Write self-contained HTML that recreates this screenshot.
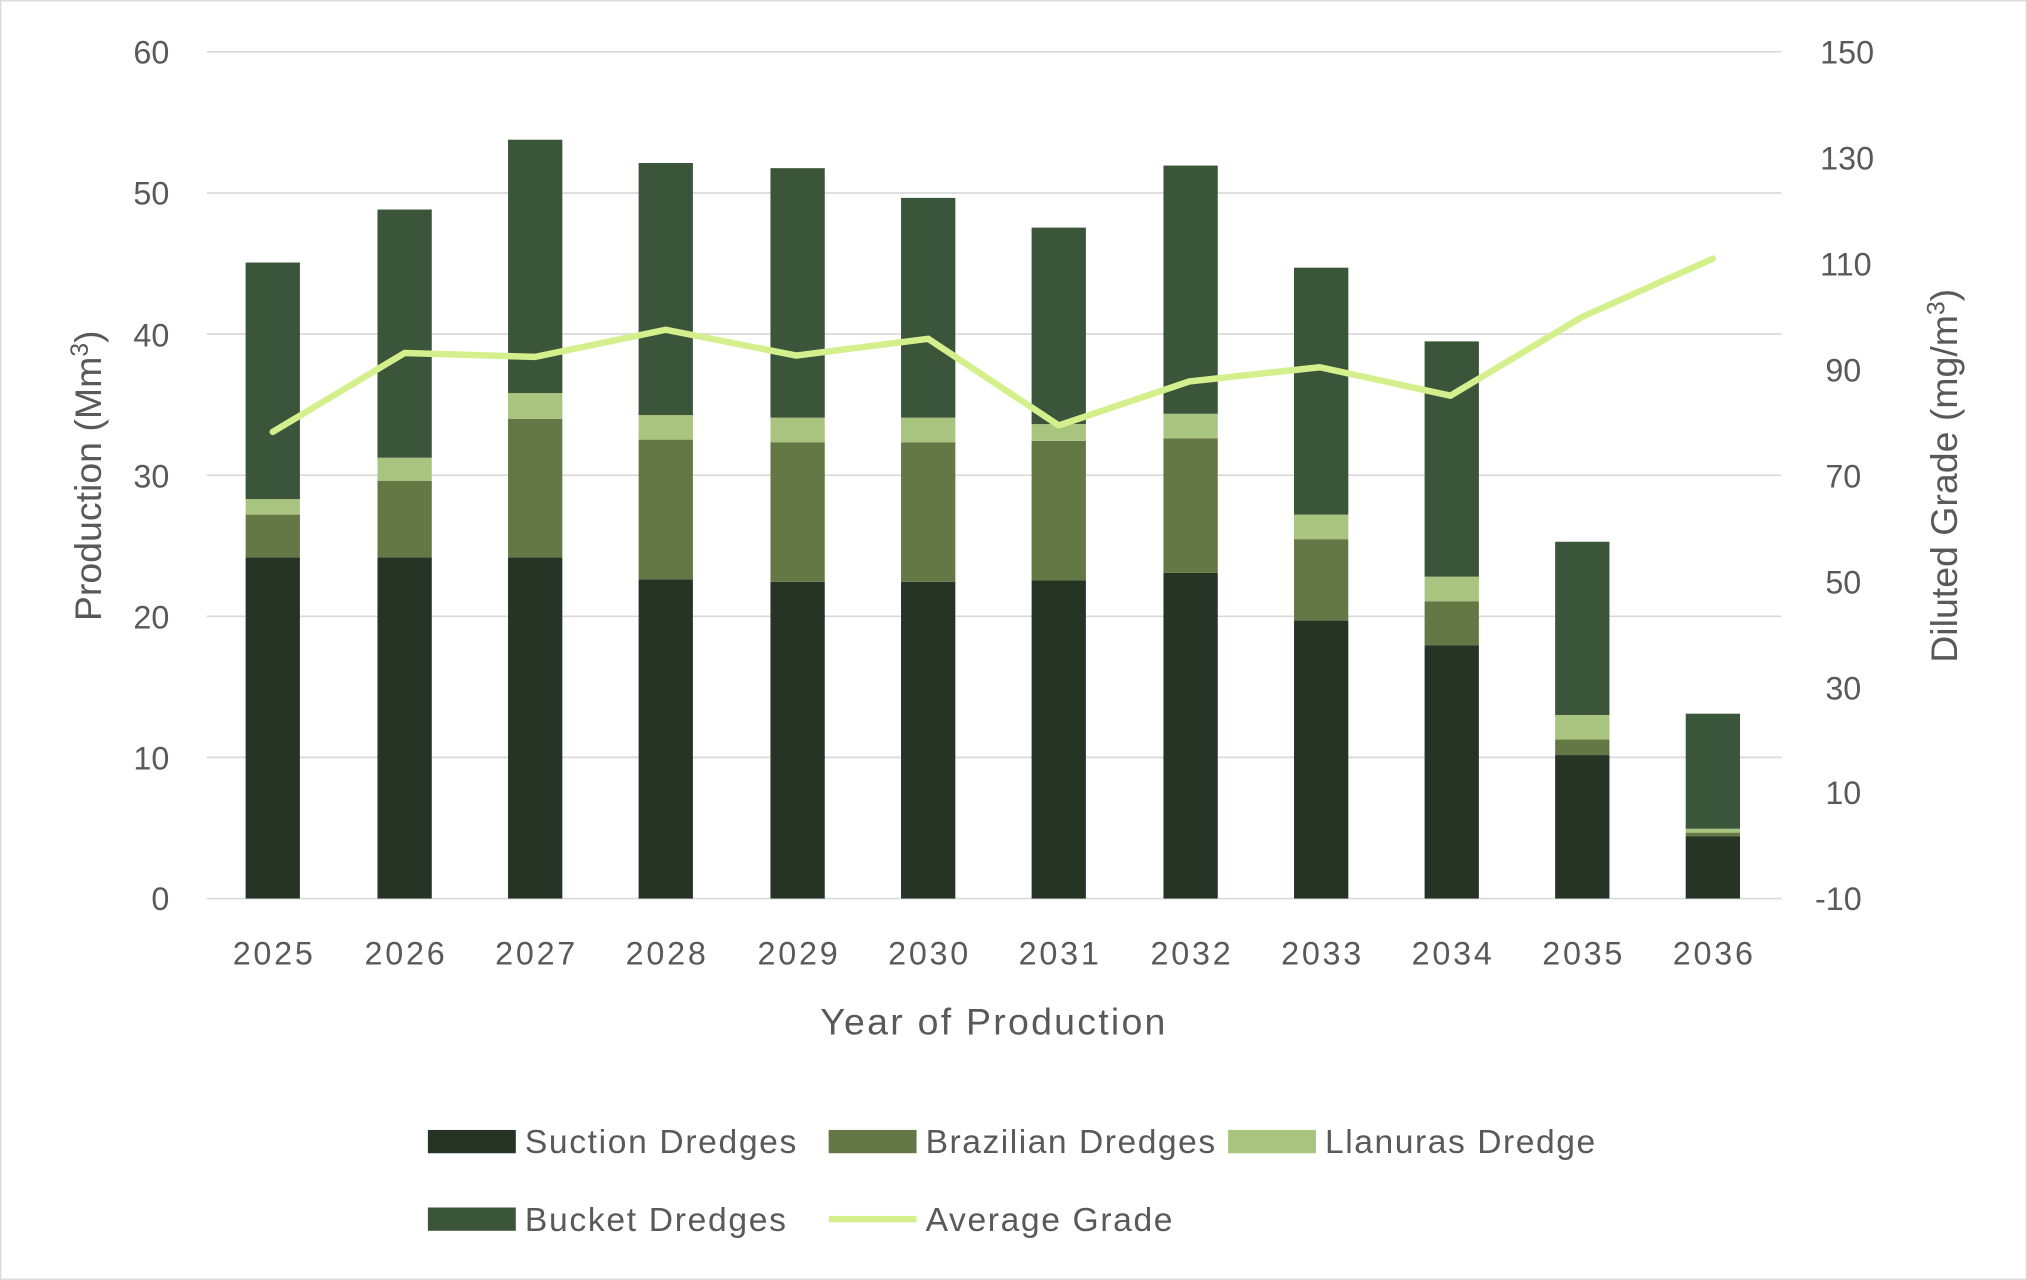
<!DOCTYPE html>
<html><head><meta charset="utf-8"><style>html,body{margin:0;padding:0;background:#fff}svg{display:block}</style></head>
<body>
<svg width="2027" height="1280" viewBox="0 0 1568 990" xmlns="http://www.w3.org/2000/svg" font-family="Liberation Sans, sans-serif">
<rect x="0.5" y="0.5" width="1567" height="989" fill="#fff" stroke="#d9d9d9"/>
<g stroke="#d9d9d9" stroke-width="1.3">
<line x1="160" x2="1378" y1="40" y2="40"/><line x1="160" x2="1378" y1="149.2" y2="149.2"/>
<line x1="160" x2="1378" y1="258.3" y2="258.3"/><line x1="160" x2="1378" y1="367.5" y2="367.5"/>
<line x1="160" x2="1378" y1="476.7" y2="476.7"/><line x1="160" x2="1378" y1="585.8" y2="585.8"/>
<line x1="160" x2="1378" y1="695" y2="695"/>
</g>
<g fill="#595959" font-size="25" text-anchor="end">
<text x="131" y="49">60</text><text x="131" y="158">50</text><text x="131" y="268">40</text>
<text x="131" y="377">30</text><text x="131" y="486">20</text><text x="131" y="595">10</text><text x="131" y="704">0</text>
</g>
<g fill="#595959" font-size="25" text-anchor="start">
<text x="1408" y="49">150</text><text x="1408" y="131">130</text><text x="1408" y="213">110</text>
<text x="1412" y="295">90</text><text x="1412" y="377">70</text><text x="1412" y="459">50</text>
<text x="1412" y="541">30</text><text x="1412" y="622">10</text><text x="1404" y="704">-10</text>
</g>
<g>
<rect x="190" y="431" width="42" height="264" fill="#263426"/><rect x="190" y="398" width="42" height="33" fill="#647845"/><rect x="190" y="386" width="42" height="12" fill="#a9c47f"/><rect x="190" y="203" width="42" height="183" fill="#3b553b"/>
<rect x="292" y="431" width="42" height="264" fill="#263426"/><rect x="292" y="372" width="42" height="59" fill="#647845"/><rect x="292" y="354" width="42" height="18" fill="#a9c47f"/><rect x="292" y="162" width="42" height="192" fill="#3b553b"/>
<rect x="393" y="431" width="42" height="264" fill="#263426"/><rect x="393" y="324" width="42" height="107" fill="#647845"/><rect x="393" y="304" width="42" height="20" fill="#a9c47f"/><rect x="393" y="108" width="42" height="196" fill="#3b553b"/>
<rect x="494" y="448" width="42" height="247" fill="#263426"/><rect x="494" y="340" width="42" height="108" fill="#647845"/><rect x="494" y="321" width="42" height="19" fill="#a9c47f"/><rect x="494" y="126" width="42" height="195" fill="#3b553b"/>
<rect x="596" y="450" width="42" height="245" fill="#263426"/><rect x="596" y="342" width="42" height="108" fill="#647845"/><rect x="596" y="323" width="42" height="19" fill="#a9c47f"/><rect x="596" y="130" width="42" height="193" fill="#3b553b"/>
<rect x="697" y="450" width="42" height="245" fill="#263426"/><rect x="697" y="342" width="42" height="108" fill="#647845"/><rect x="697" y="323" width="42" height="19" fill="#a9c47f"/><rect x="697" y="153" width="42" height="170" fill="#3b553b"/>
<rect x="798" y="449" width="42" height="246" fill="#263426"/><rect x="798" y="341" width="42" height="108" fill="#647845"/><rect x="798" y="328" width="42" height="13" fill="#a9c47f"/><rect x="798" y="176" width="42" height="152" fill="#3b553b"/>
<rect x="900" y="443" width="42" height="252" fill="#263426"/><rect x="900" y="339" width="42" height="104" fill="#647845"/><rect x="900" y="320" width="42" height="19" fill="#a9c47f"/><rect x="900" y="128" width="42" height="192" fill="#3b553b"/>
<rect x="1001" y="480" width="42" height="215" fill="#263426"/><rect x="1001" y="417" width="42" height="63" fill="#647845"/><rect x="1001" y="398" width="42" height="19" fill="#a9c47f"/><rect x="1001" y="207" width="42" height="191" fill="#3b553b"/>
<rect x="1102" y="499" width="42" height="196" fill="#263426"/><rect x="1102" y="465" width="42" height="34" fill="#647845"/><rect x="1102" y="446" width="42" height="19" fill="#a9c47f"/><rect x="1102" y="264" width="42" height="182" fill="#3b553b"/>
<rect x="1203" y="584" width="42" height="111" fill="#263426"/><rect x="1203" y="572" width="42" height="12" fill="#647845"/><rect x="1203" y="553" width="42" height="19" fill="#a9c47f"/><rect x="1203" y="419" width="42" height="134" fill="#3b553b"/>
<rect x="1304" y="647" width="42" height="48" fill="#263426"/><rect x="1304" y="644" width="42" height="3" fill="#647845"/><rect x="1304" y="641" width="42" height="3" fill="#a9c47f"/><rect x="1304" y="552" width="42" height="89" fill="#3b553b"/>
</g>
<polyline fill="none" stroke="#d4f08c" stroke-width="5" stroke-linejoin="round" stroke-linecap="round" points="211,334 313,273 414,276 515,255 616,275 718,262 819,329 920,295 1021,284 1122,306 1224,245 1325,200"/>
<g fill="#595959" font-size="25" text-anchor="middle">
<text x="211" y="746" textLength="62">2025</text><text x="313" y="746" textLength="62">2026</text><text x="414" y="746" textLength="62">2027</text><text x="515" y="746" textLength="62">2028</text>
<text x="617" y="746" textLength="62">2029</text><text x="718" y="746" textLength="62">2030</text><text x="819" y="746" textLength="62">2031</text><text x="921" y="746" textLength="62">2032</text>
<text x="1022" y="746" textLength="62">2033</text><text x="1123" y="746" textLength="62">2034</text><text x="1224" y="746" textLength="62">2035</text><text x="1325" y="746" textLength="62">2036</text>
<text x="768" y="800" font-size="29" textLength="267">Year of Production</text>
<text transform="translate(78,368) rotate(-90)" font-size="29">Production (Mm<tspan font-size="19" dy="-10">3</tspan><tspan dy="10">)</tspan></text>
<text transform="translate(1514,368) rotate(-90)" font-size="29">Diluted Grade (mg/m<tspan font-size="19" dy="-10">3</tspan><tspan dy="10">)</tspan></text>
</g>
<g font-size="26" fill="#595959">
<rect x="331" y="874" width="68" height="18" fill="#263426"/><text x="406" y="892" textLength="210">Suction Dredges</text>
<rect x="641" y="874" width="68" height="18" fill="#647845"/><text x="716" y="892" textLength="224">Brazilian Dredges</text>
<rect x="950" y="874" width="68" height="18" fill="#a9c47f"/><text x="1025" y="892" textLength="209">Llanuras Dredge</text>
<rect x="331" y="934" width="68" height="18" fill="#3b553b"/><text x="406" y="952" textLength="202">Bucket Dredges</text>
<line x1="641" x2="709" y1="943" y2="943" stroke="#d4f08c" stroke-width="5"/><text x="716" y="952" textLength="191">Average Grade</text>
</g>
</svg>
</body></html>
